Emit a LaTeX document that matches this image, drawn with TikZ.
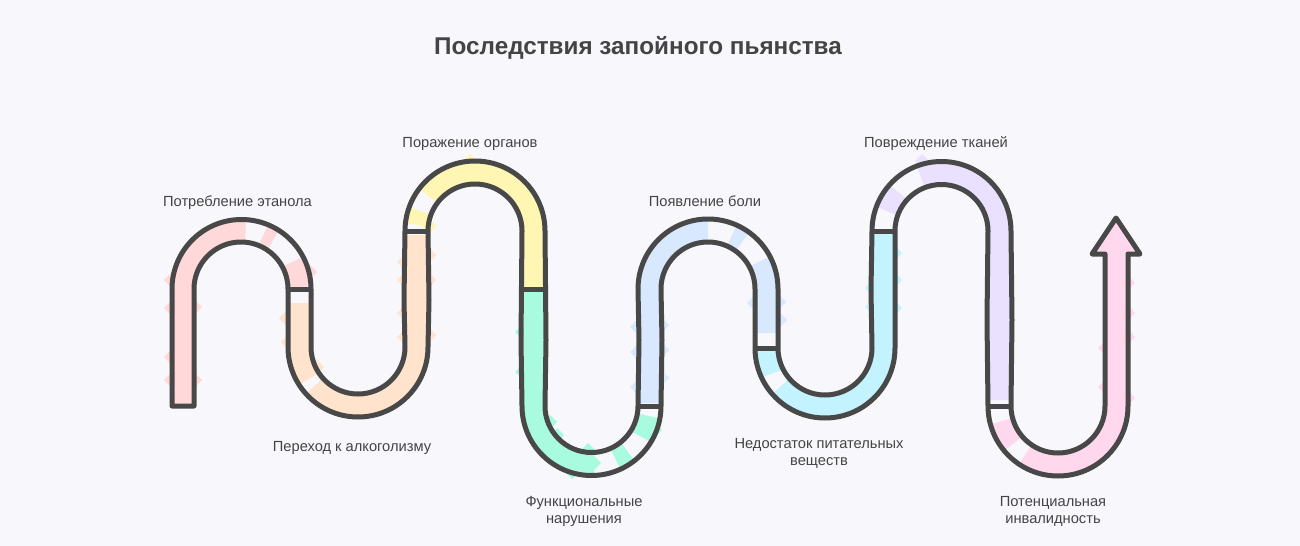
\documentclass[tikz,border=0pt]{standalone}
\usepackage{fontspec}
\setmainfont{Liberation Sans}
\definecolor{pathbg}{RGB}{247,247,252}
\definecolor{pathline}{RGB}{72,72,72}
\definecolor{pathtext}{RGB}{68,68,68}
\definecolor{pathrose}{RGB}{255,217,217}
\definecolor{pathpeach}{RGB}{255,227,205}
\definecolor{pathyellow}{RGB}{255,246,179}
\definecolor{pathmint}{RGB}{169,251,223}
\definecolor{pathblue}{RGB}{216,232,255}
\definecolor{pathcyan}{RGB}{194,243,255}
\definecolor{pathlilac}{RGB}{233,225,255}
\definecolor{pathpink}{RGB}{255,216,238}
\tikzset{
    band/.style={line width=15pt},
    tube/.style={draw=pathline, line width=3.75pt, line join=round},
    tubelabel/.style={font=\fontsize{11}{12.75}\selectfont, text=pathtext, align=center, inner sep=0pt}
}

\begin{document}
\begin{tikzpicture}[x=0.75pt, y=0.75pt, yscale=-1]
    \useasboundingbox (0,0) rectangle (1300,546);
    \fill[pathbg] (0,0) rectangle (1300,546);

    \node[font=\fontsize{18.2}{21}\selectfont\bfseries, text=pathtext, inner sep=0pt] (pathtitle) at (638,47.5) {Последствия запойного пьянства};

    \draw[band, pathrose] (183,404) -- (183,289) arc[start angle=180, end angle=274, radius=58.5];
    \draw[band, pathrose] (241.5,289) ++(292:58.5) arc[start angle=292, end angle=303, radius=58.5];
    \draw[band, pathrose] (241.5,289) ++(332:58.5) arc[start angle=332, end angle=358, radius=58.5];
    \foreach \x/\y in {172/280, 172/308, 172/357, 172/380, 194/307, 194/380, 309/272}
        \fill[pathrose, shift={(\x,\y)}] (-8,0) -- (0,-8) -- (8,0) -- (0,8) -- cycle;

    \draw[band, pathpeach] (299.5,303) -- (299.5,347) arc[start angle=180, end angle=147, radius=58.5];
    \draw[band, pathpeach] (358,347) ++(138:58.5) arc[start angle=138, end angle=0, radius=58.5] -- (416.5,235);
    \foreach \x/\y in {287/318, 289/342, 316/367, 405/262, 428/255, 405/280, 428/280, 405/313, 405/337, 428/335}
        \fill[pathpeach, shift={(\x,\y)}] (-8,0) -- (0,-8) -- (8,0) -- (0,8) -- cycle;

    \draw[band, pathyellow] (475,231) ++(186:58.5) arc[start angle=186, end angle=200, radius=58.5];
    \draw[band, pathyellow] (475,231) ++(217:58.5) arc[start angle=217, end angle=360, radius=58.5] -- (533.5,287);
    \foreach \x/\y in {470/161, 510/195, 429/226}
        \fill[pathyellow, shift={(\x,\y)}] (-7,0) -- (0,-7) -- (7,0) -- (0,7) -- cycle;

    \draw[band, pathmint] (533.5,291) -- (533.5,406) arc[start angle=180, end angle=88, radius=58.5];
    \draw[band, pathmint] (592,406) ++(52:58.5) arc[start angle=52, end angle=66, radius=58.5];
    \draw[band, pathmint] (592,406) ++(10:58.5) arc[start angle=10, end angle=32, radius=58.5];
    \foreach \x/\y in {522/332, 522/372, 550/422, 557/435, 572/472, 588/450, 594/463, 655/430}
        \fill[pathmint, shift={(\x,\y)}] (-7,0) -- (0,-7) -- (7,0) -- (0,7) -- cycle;

    \draw[band, pathblue] (649.5,403) -- (649.5,289) arc[start angle=180, end angle=270, radius=58.5];
    \draw[band, pathblue] (708,289) ++(294:58.5) arc[start angle=294, end angle=306, radius=58.5];
    \draw[band, pathblue] (708,289) ++(332:58.5) arc[start angle=332, end angle=360, radius=58.5] -- (766.5,333);
    \foreach \x/\y in {638/327, 638/352, 638/387, 661/325, 661/350, 661/378, 755/303, 778/302, 779/320}
        \fill[pathblue, shift={(\x,\y)}] (-8,0) -- (0,-8) -- (8,0) -- (0,8) -- cycle;

    \draw[band, pathcyan] (766.5,351) arc[start angle=180, end angle=157, radius=58.5];
    \draw[band, pathcyan] (825,348) ++(139:58.5) arc[start angle=139, end angle=0, radius=58.5] -- (883.5,233);
    \foreach \x/\y in {895/253, 872/288, 895/280, 872/307, 895/308}
        \fill[pathcyan, shift={(\x,\y)}] (-7,0) -- (0,-7) -- (7,0) -- (0,7) -- cycle;

    \draw[band, pathlilac] (941.5,231) ++(200:58) arc[start angle=200, end angle=222, radius=58];
    \draw[band, pathlilac] (941.5,231) ++(249:58) arc[start angle=249, end angle=360, radius=58] -- (999.5,400);
    \fill[pathlilac, shift={(922,161)}] (-7,0) -- (0,-7) -- (7,0) -- (0,7) -- cycle;

    \draw[band, pathpink] (1058,406) ++(165:58.5) arc[start angle=165, end angle=140, radius=58.5];
    \draw[band, pathpink] (1058,406) ++(124:58.5) arc[start angle=124, end angle=0, radius=58.5] -- (1116.5,252);
    \fill[pathpink] (1092,254) -- (1116,218) -- (1140,254) -- cycle;
    \foreach \x/\y in {1128/283, 1128/313, 1128/337, 1128/398, 1105/348, 1105/387}
        \fill[pathpink, shift={(\x,\y)}] (-7,0) -- (0,-7) -- (7,0) -- (0,7) -- cycle;

    \draw[tube] (172,406) -- (172,289) arc[start angle=180, end angle=360, radius=69.5]
        -- (311,347) arc[start angle=180, end angle=0, radius=47]
        -- (404,300) -- (405,231) arc[start angle=180, end angle=360, radius=70]
        -- (546,340) -- (545,406) arc[start angle=180, end angle=0, radius=46.5]
        -- (639,340) -- (638,289) arc[start angle=180, end angle=360, radius=70]
        -- (778,348) arc[start angle=180, end angle=0, radius=47]
        -- (871,290) -- (872,231) arc[start angle=180, end angle=360, radius=69.5]
        -- (1012,320) -- (1011,406) arc[start angle=180, end angle=0, radius=47]
        -- (1105,254) -- (1092,254) -- (1116,218) -- (1140,254) -- (1128,254)
        -- (1128,406) arc[start angle=0, end angle=180, radius=70]
        -- (987,320) -- (988,231) arc[start angle=360, end angle=180, radius=46.5]
        -- (895,348) arc[start angle=0, end angle=180, radius=70]
        -- (755,289) arc[start angle=360, end angle=180, radius=47]
        -- (662,340) -- (661,406) arc[start angle=0, end angle=180, radius=69.5]
        -- (521,340) -- (522,231) arc[start angle=360, end angle=180, radius=47]
        -- (429,300) -- (428,347) arc[start angle=0, end angle=180, radius=70]
        -- (288,289) arc[start angle=360, end angle=180, radius=47]
        -- (194,406) -- cycle;

    \draw[tube] (288,289) -- (311,289);
    \draw[tube] (405,231) -- (428,231);
    \draw[tube] (522,289) -- (545,289);
    \draw[tube] (638,406) -- (661,406);
    \draw[tube] (755,348) -- (778,348);
    \draw[tube] (872,231) -- (895,231);
    \draw[tube] (988,406) -- (1011,406);

    \node[tubelabel] (ethanol) at (237.5,203) {Потребление этанола};
    \node[tubelabel] (alcoholism) at (352,448) {Переход к алкоголизму};
    \node[tubelabel] (organs) at (470,144) {Поражение органов};
    \node[tubelabel] (disorders) at (584,511.5) {Функциональные\\нарушения};
    \node[tubelabel] (pain) at (705,201) {Появление боли};
    \node[tubelabel] (nutrients) at (819,453.5) {Недостаток питательных\\веществ};
    \node[tubelabel] (tissues) at (936,144) {Повреждение тканей};
    \node[tubelabel] (disability) at (1053,511.5) {Потенциальная\\инвалидность};
\end{tikzpicture}
\end{document}
